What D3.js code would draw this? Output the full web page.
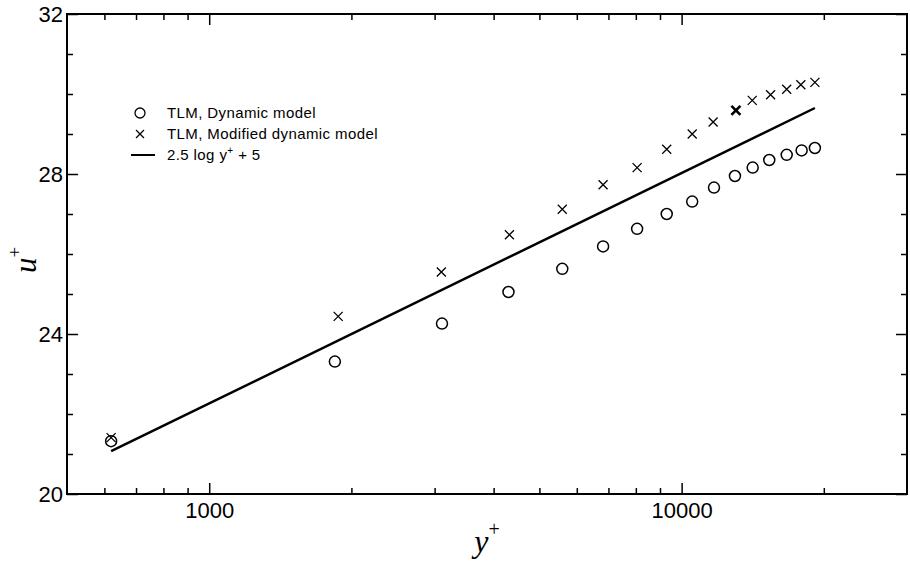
<!DOCTYPE html>
<html>
<head>
<meta charset="utf-8">
<script src="https://cdn.jsdelivr.net/npm/d3@7"></script>
<style>
  body { margin: 0; background: #fff; }
  svg { display: block; font-family: 'Liberation Sans', Arial, sans-serif; }
  .tick text { fill: #000; }
</style>
</head>
<body>
<svg id="chart" width="910" height="563"></svg>
<script>
// values
const yPlusDynamic = [620, 1845, 3110, 4300, 5590, 6820, 8050, 9300, 10530, 11710, 12970, 14140, 15330, 16690, 17950, 19150]
const uDynamic = [21.32, 23.31, 24.26, 25.05, 25.63, 26.19, 26.63, 27.00, 27.31, 27.66, 27.95, 28.16, 28.35, 28.48, 28.59, 28.65]

const yPlusModified = [620, 1875, 3100, 4320, 5590, 6820, 8050, 9300, 10530, 11660, 13030, 14110, 15430, 16690, 17880, 19150]
const uModified = [21.41, 24.44, 25.55, 26.48, 27.12, 27.73, 28.16, 28.62, 29.00, 29.30, 29.59, 29.84, 29.98, 30.12, 30.23, 30.29]

// log law line end points
const lawYPlus = [620, 19150]
const lawU = [21.07, 29.65]

const xMajorTicks = [1000, 10000]
const xMinorTicks = [600, 700, 800, 900, 2000, 3000, 4000, 5000, 6000, 7000, 8000, 9000, 20000]
const yMajorTicks = [20, 24, 28, 32]
const yMinorTicks = [21, 22, 23, 25, 26, 27, 29, 30, 31]

const legendLabels = ['TLM, Dynamic model', 'TLM, Modified dynamic model', '2.5 log y+ + 5']

const margin = { top: 14, left: 67 }
const size = { width: 840, height: 480 }

const svg = d3.select('#chart')
const canvas = svg.append('g')
  .attr('transform', `translate(${margin.left},${margin.top})`)

const x = d3.scaleLog().domain([500, 30000]).range([0, size.width])
const y = d3.scaleLinear().domain([20, 32]).range([size.height, 0])

// ticks on all four sides, pointing inwards
const addAxis = (axis, transform) => {
  const g = canvas.append('g').attr('transform', transform).call(axis)
  g.select('.domain').remove()
  g.selectAll('.tick line').attr('stroke', '#000').attr('stroke-width', 1.5)
  return g
}

const fmt = d3.format('d')
addAxis(d3.axisBottom(x).tickValues(xMajorTicks).tickSize(-11).tickPadding(8).tickFormat(fmt),
  `translate(0,${size.height})`)
  .selectAll('text').attr('font-size', 22).attr('dy', '0.71em')
addAxis(d3.axisBottom(x).tickValues(xMinorTicks).tickSize(-6).tickFormat(''), `translate(0,${size.height})`)
addAxis(d3.axisTop(x).tickValues(xMajorTicks).tickSize(-11).tickFormat(''), 'translate(0,0)')
addAxis(d3.axisTop(x).tickValues(xMinorTicks).tickSize(-6).tickFormat(''), 'translate(0,0)')

addAxis(d3.axisLeft(y).tickValues(yMajorTicks).tickSize(-11).tickPadding(4).tickFormat(fmt), 'translate(0,0)')
  .selectAll('text').attr('font-size', 22)
addAxis(d3.axisLeft(y).tickValues(yMinorTicks).tickSize(-6).tickFormat(''), 'translate(0,0)')
addAxis(d3.axisRight(y).tickValues(yMajorTicks).tickSize(-11).tickFormat(''), `translate(${size.width},0)`)
addAxis(d3.axisRight(y).tickValues(yMinorTicks).tickSize(-6).tickFormat(''), `translate(${size.width},0)`)

canvas.append('rect')
  .attr('width', size.width)
  .attr('height', size.height)
  .attr('fill', 'none')
  .attr('stroke', '#000')
  .attr('stroke-width', 2)

// log law
const line = d3.line()
  .x((d) => x(d[0]))
  .y((d) => y(d[1]))
canvas.append('path')
  .datum(lawYPlus.map((v, i) => [v, lawU[i]]))
  .attr('d', line)
  .attr('fill', 'none')
  .attr('stroke', '#000')
  .attr('stroke-width', 2.5)

const crossPath = (s) => `M${-s},${-s}L${s},${s}M${-s},${s}L${s},${-s}`

canvas.append('g')
  .selectAll('circle')
  .data(yPlusDynamic.map((v, i) => [v, uDynamic[i]]))
  .enter()
  .append('circle')
  .attr('cx', (d) => x(d[0]))
  .attr('cy', (d) => y(d[1]))
  .attr('r', 5.5)
  .attr('fill', 'none')
  .attr('stroke', '#000')
  .attr('stroke-width', 1.5)

canvas.append('g')
  .selectAll('path')
  .data(yPlusModified.map((v, i) => [v, uModified[i]]))
  .enter()
  .append('path')
  .attr('transform', (d) => `translate(${x(d[0])},${y(d[1])})`)
  .attr('d', crossPath(4.5))
  .attr('fill', 'none')
  .attr('stroke', '#000')
  .attr('stroke-width', (d, i) => i === 10 ? 2.6 : 1.3)

// axis titles
const xTitle = svg.append('text')
  .attr('x', 487)
  .attr('y', 552)
  .attr('text-anchor', 'middle')
  .attr('font-family', "'Liberation Serif', 'Times New Roman', serif")
xTitle.append('tspan').attr('font-style', 'italic').attr('font-size', 32).text('y')
xTitle.append('tspan').attr('font-size', 20).attr('dy', -16).text('+')

const yTitle = svg.append('text')
  .attr('transform', 'translate(36,260) rotate(-90)')
  .attr('text-anchor', 'middle')
  .attr('font-family', "'Liberation Serif', 'Times New Roman', serif")
yTitle.append('tspan').attr('font-style', 'italic').attr('font-size', 31).text('u')
yTitle.append('tspan').attr('font-size', 19).attr('dy', -15).text('+')

// legend
const legend = svg.append('g').attr('transform', 'translate(140,113)')
const rows = legend.selectAll('g')
  .data(legendLabels)
  .enter()
  .append('g')
  .attr('transform', (d, i) => `translate(0,${i * 21})`)

rows.filter((d, i) => i === 0).append('circle')
  .attr('r', 5).attr('fill', 'none').attr('stroke', '#000').attr('stroke-width', 1.3)
rows.filter((d, i) => i === 1).append('path')
  .attr('d', crossPath(4)).attr('fill', 'none').attr('stroke', '#000').attr('stroke-width', 1.2)
rows.filter((d, i) => i === 2).append('line')
  .attr('x1', -9).attr('x2', 15).attr('stroke', '#000').attr('stroke-width', 2)

const labels = rows.append('text')
  .attr('x', 27)
  .attr('y', 5)
  .attr('font-size', 15)
  .attr('letter-spacing', 0.4)
labels.filter((d, i) => i < 2).text((d) => d)
const lawLabel = labels.filter((d, i) => i === 2)
lawLabel.append('tspan').text('2.5 log y')
lawLabel.append('tspan').attr('font-size', 10).attr('dy', -6).text('+')
lawLabel.append('tspan').attr('dy', 6).text(' + 5')
</script>
</body>
</html>
